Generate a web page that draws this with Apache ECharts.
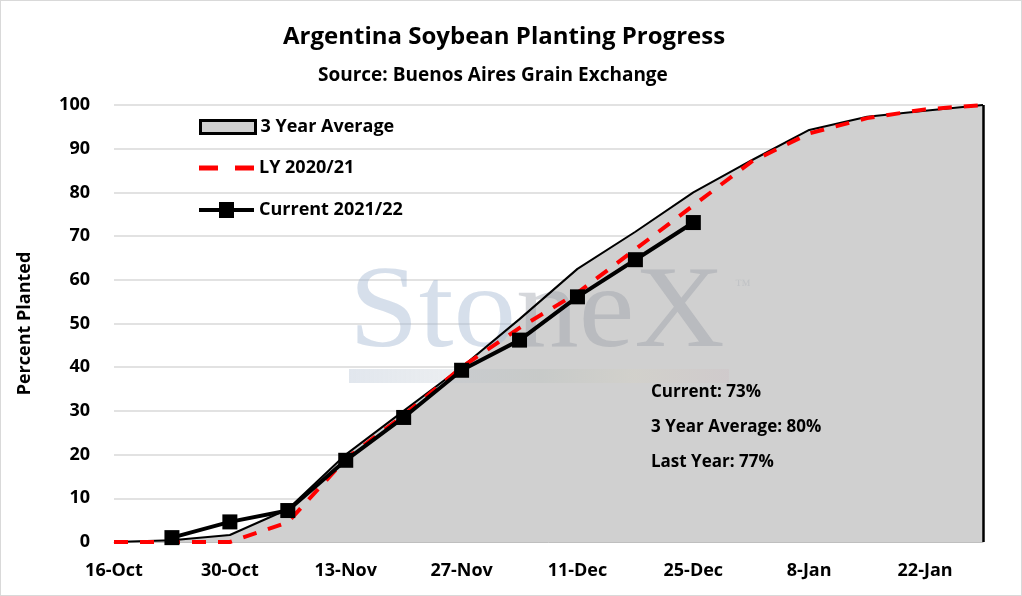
<!DOCTYPE html>
<html>
<head>
<meta charset="utf-8">
<script src="https://cdn.jsdelivr.net/npm/echarts@6/dist/echarts.min.js"></script>
<style>
  html, body { margin: 0; padding: 0; background: #fff; }
  #chart { width: 1020px; height: 594px; border: 1px solid #d9d9d9; }
</style>
</head>
<body>
<div id="chart"></div>
<script>
var weeks = ['16-Oct', '23-Oct', '30-Oct', '6-Nov', '13-Nov', '20-Nov', '27-Nov', '4-Dec',
    '11-Dec', '18-Dec', '25-Dec', '1-Jan', '8-Jan', '15-Jan', '22-Jan', '29-Jan'];
var avg3yr = [0, 0.4, 1.6, 7.5, 20, 30, 40, 51, 62.5, 71, 80, 87.3, 94.3, 97.3, 98.7, 100];
var ly2021 = [0, 0, 0, 4.5, 19, 29, 40, 49, 57, 67, 77, 87, 93.5, 97, 99, 100];
var cur2122 = [null, 1, 4.6, 7.2, 18.7, 28.5, 39.3, 46.2, 56.1, 64.6, 73.1];
var notes = ['Current: 73%', '3 Year Average: 80%', 'Last Year: 77%'];

var font = '"Open Sans", Lato, sans-serif';
var legendText = { fontSize: 18, fontWeight: 'bold', color: '#000', fontFamily: font };
var myChart = echarts.init(document.getElementById('chart'));

var option = {
    animation: false,
    textStyle: { fontFamily: font },
    title: [
        {
            text: 'Argentina Soybean Planting Progress',
            left: 277, top: 19,
            textStyle: { fontSize: 24, fontWeight: 'bold', color: '#000', fontFamily: font }
        },
        {
            text: 'Source: Buenos Aires Grain Exchange',
            left: 312, top: 60,
            textStyle: { fontSize: 19, fontWeight: 'bold', color: '#000', fontFamily: font }
        }
    ],
    // three legends so each icon can keep its own height
    legend: [
        {
            left: 193, top: 112, itemWidth: 55, itemHeight: 13,
            textStyle: legendText,
            data: [{ name: '3 Year Average', icon: 'rect',
                itemStyle: { color: '#d0d0d0', borderColor: '#000', borderWidth: 3 } }]
        },
        {
            left: 193, top: 153, itemWidth: 55, itemHeight: 5,
            textStyle: legendText,
            data: [{ name: 'LY 2020/21', icon: 'path://M0,0h19v5h-19z M36,0h19v5h-19z' }]
        },
        {
            left: 193, top: 195, itemWidth: 55, itemHeight: 16,
            textStyle: legendText,
            data: [{ name: 'Current 2021/22', icon: 'path://M0,6h20v4h-20z M20,0h15v16h-15z M35,6h20v4h-20z' }]
        }
    ],
    grid: { left: 113, right: 38, top: 104, bottom: 53 },
    xAxis: {
        type: 'category',
        data: weeks,
        boundaryGap: false,
        axisLine: { lineStyle: { color: '#bfbfbf', width: 1 } },
        axisTick: { show: false },
        axisLabel: {
            interval: 1, color: '#000', fontSize: 18, fontWeight: 'bold', margin: 20,
            fontFamily: font
        }
    },
    yAxis: {
        type: 'value',
        min: 0,
        max: 100,
        interval: 10,
        name: 'Percent Planted',
        nameLocation: 'middle',
        nameGap: 80,
        nameTextStyle: { fontSize: 18, fontWeight: 'bold', color: '#000', fontFamily: font },
        axisLine: { show: false },
        axisTick: { show: false },
        axisLabel: { color: '#000', fontSize: 18, fontWeight: 'bold', margin: 24, fontFamily: font },
        splitLine: { lineStyle: { color: '#d9d9d9', width: 1.5 } }
    },
    graphic: [
        {
            type: 'text', left: 348, top: 257, z: 2, silent: true, scaleX: 1.08,
            style: {
                text: '{a|Sto}{b|neX}',
                font: '116px "Liberation Serif", serif',
                rich: {
                    a: { font: '116px "Liberation Serif", serif', fill: 'rgba(165,185,210,0.45)' },
                    b: { font: '116px "Liberation Serif", serif', fill: 'rgba(150,155,165,0.4)' }
                }
            }
        },
        {
            type: 'text', left: 734, top: 277, z: 2, silent: true,
            style: { text: '™', font: '16px "Liberation Serif", serif', fill: 'rgba(160,165,175,0.3)' }
        },
        {
            type: 'rect', left: 348, top: 368, z: 2, silent: true,
            shape: { width: 380, height: 14 },
            style: {
                fill: new echarts.graphic.LinearGradient(0, 0, 1, 0, [
                    { offset: 0, color: 'rgba(170,185,205,0.35)' },
                    { offset: 0.3, color: 'rgba(180,190,200,0.25)' },
                    { offset: 0.5, color: 'rgba(175,185,180,0.25)' },
                    { offset: 0.75, color: 'rgba(215,210,190,0.25)' },
                    { offset: 1, color: 'rgba(205,185,190,0.25)' }
                ])
            }
        },
        { type: 'text', left: 650, top: 383, z: 100, style: { text: notes[0], font: 'bold 17px ' + font, fill: '#000' } },
        { type: 'text', left: 650, top: 418, z: 100, style: { text: notes[1], font: 'bold 17px ' + font, fill: '#000' } },
        { type: 'text', left: 650, top: 453, z: 100, style: { text: notes[2], font: 'bold 17px ' + font, fill: '#000' } }
    ],
    series: [
        {
            // filled area only, watermark sits between it and the lines
            name: '3 Year Average',
            type: 'line',
            data: avg3yr,
            symbol: 'none',
            z: 1,
            itemStyle: { color: '#d0d0d0' },
            lineStyle: { width: 0 },
            areaStyle: { color: '#d0d0d0', opacity: 1 }
        },
        {
            name: '3 Year Average',
            type: 'line',
            data: avg3yr,
            symbol: 'none',
            z: 3,
            itemStyle: { color: '#d0d0d0' },
            lineStyle: { color: '#000', width: 2 },
            markLine: {
                silent: true,
                symbol: 'none',
                label: { show: false },
                lineStyle: { color: '#000', width: 2.5, type: 'solid' },
                data: [{ xAxis: weeks[weeks.length - 1] }]
            }
        },
        {
            name: 'LY 2020/21',
            type: 'line',
            data: ly2021,
            symbol: 'none',
            z: 4,
            itemStyle: { color: '#ff0000' },
            lineStyle: { color: '#ff0000', width: 4, type: [14, 12] }
        },
        {
            name: 'Current 2021/22',
            type: 'line',
            data: cur2122,
            symbol: 'rect',
            symbolSize: 15,
            z: 5,
            itemStyle: { color: '#000' },
            lineStyle: { color: '#000', width: 4 }
        }
    ]
};

myChart.setOption(option);
</script>
</body>
</html>
